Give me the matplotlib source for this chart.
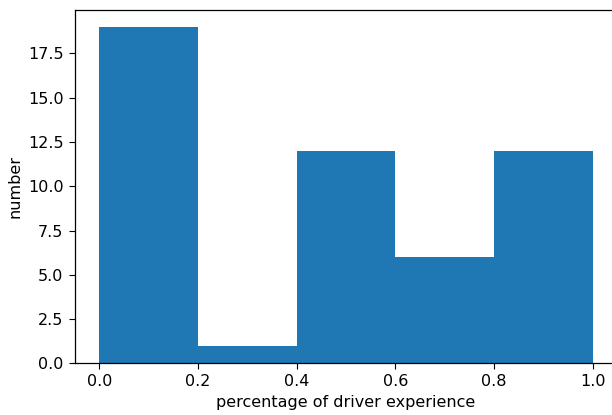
import numpy as np
import matplotlib
matplotlib.use("Agg")
import matplotlib.pyplot as plt

# histogram data
bin_edges = [0.0, 0.2, 0.4, 0.6, 0.8, 1.0]
counts = [19, 1, 12, 6, 12]

# reference looks like a default figure scaled up by ~1.15
plt.rcParams["font.size"] = 11.5
plt.rcParams["xtick.major.size"] = 4.5
plt.rcParams["ytick.major.size"] = 4.5
plt.rcParams["axes.linewidth"] = 0.9

fig = plt.figure(figsize=(6.12, 4.15), dpi=100)
# right spine falls just outside the picture in the reference (cropped)
ax = fig.add_axes([0.1219, 0.1245, 0.887, 0.8514])

# same as plt.hist output: one bar per bin
ax.hist(bin_edges[:-1], bins=bin_edges, weights=counts, color="#1f77b4")

ax.set_xlabel("percentage of driver experience")
ax.set_ylabel("number")

fig.savefig("out.png", dpi=100)
